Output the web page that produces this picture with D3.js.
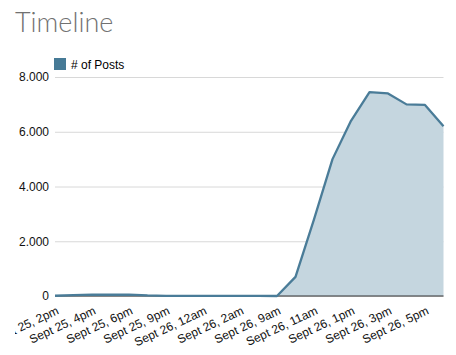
<!DOCTYPE html>
<html><head><meta charset="utf-8">
<script src="https://cdn.jsdelivr.net/npm/d3@7"></script>
<style>body{margin:0;background:#fff;}svg{display:block;}</style>
</head><body>
<svg id="c" width="456" height="355"></svg>
<script>
const categories = ["Sept 25, 2pm","Sept 25, 3pm","Sept 25, 4pm","Sept 25, 5pm","Sept 25, 6pm","Sept 25, 8pm","Sept 25, 9pm","Sept 25, 11pm","Sept 26, 12am","Sept 26, 1am","Sept 26, 2am","Sept 26, 8am","Sept 26, 9am","Sept 26, 10am","Sept 26, 11am","Sept 26, 12pm","Sept 26, 1pm","Sept 26, 2pm","Sept 26, 3pm","Sept 26, 4pm","Sept 26, 5pm","Sept 26, 6pm"];
const posts = [10, 30, 50, 45, 50, 20, 5, 5, 5, 5, 5, 5, 0, 700, 2800, 5000, 6400, 7450, 7400, 7000, 6980, 6200];
const yTicks = [0, 2000, 4000, 6000, 8000];
const seriesName = "# of Posts";
const title = "Timeline";

(function () {
const svg = d3.select("#c");
const mLeft = 55, mRight = 443.5, mTop = 77, mBottom = 296;
const x = d3.scalePoint().domain(categories).range([mLeft, mRight]);
const y = d3.scaleLinear().domain([0, 8000]).range([mBottom, mTop]);
const loc = d3.formatLocale({decimal: ",", thousands: ".", grouping: [3], currency: ["", ""]});
const fmt = loc.format(",");

svg.append("defs").append("clipPath").attr("id", "lblclip")
  .append("rect").attr("x", 15).attr("y", 0).attr("width", 441).attr("height", 355);

svg.append("text").attr("x", 15).attr("y", 32).text(title)
  .attr("font-family", "Lato, 'Open Sans', sans-serif").attr("font-weight", 300)
  .attr("font-size", 27).attr("fill", "#717171");

// legend
svg.append("rect").attr("x", 54).attr("y", 58).attr("width", 12).attr("height", 12).attr("fill", "#467a96");
svg.append("text").attr("x", 71).attr("y", 68.5).text(seriesName)
  .attr("font-family", "'Liberation Sans', Arial, sans-serif").attr("font-size", 12).attr("fill", "#000");

// grid
const yAxis = d3.axisLeft(y).tickValues(yTicks).tickFormat(fmt).tickSize(-(mRight - mLeft)).tickPadding(6);
const gy = svg.append("g").attr("transform", `translate(${mLeft},0)`).call(yAxis);
gy.select(".domain").remove();
gy.selectAll(".tick line").attr("stroke", "#d8d8d8");
gy.selectAll(".tick text").attr("font-family", "'Liberation Sans', Arial, sans-serif").attr("font-size", 12).attr("fill", "#111");

// area + line
const area = d3.area().x((d, i) => x(categories[i])).y0(mBottom).y1(d => y(d));
svg.append("path").datum(posts).attr("d", area).attr("fill", "#c5d6df");
svg.append("line").attr("x1", mLeft).attr("x2", mRight).attr("y1", mBottom).attr("y2", mBottom).attr("stroke", "#333").attr("stroke-width", 1);
const line = d3.line().x((d, i) => x(categories[i])).y(d => y(d));
svg.append("path").datum(posts).attr("d", line).attr("fill", "none").attr("stroke", "#4a7c98").attr("stroke-width", 2.3).attr("stroke-linejoin", "round");

// x axis labels
const xAxis = d3.axisBottom(x).tickValues(categories.filter((d, i) => i % 2 === 0)).tickSize(0).tickPadding(0);
const gxWrap = svg.append("g").attr("clip-path", "url(#lblclip)");
const gx = gxWrap.append("g").attr("transform", `translate(0,${mBottom})`).call(xAxis);
gx.select(".domain").remove();
gx.selectAll(".tick text")
  .attr("font-family", "'Liberation Sans', Arial, sans-serif").attr("font-size", 12).attr("fill", "#111")
  .attr("text-anchor", "end").attr("dy", 0).attr("y", 0)
  .attr("transform", "translate(4,17.5) rotate(-25)");
})();
</script>
</body></html>
